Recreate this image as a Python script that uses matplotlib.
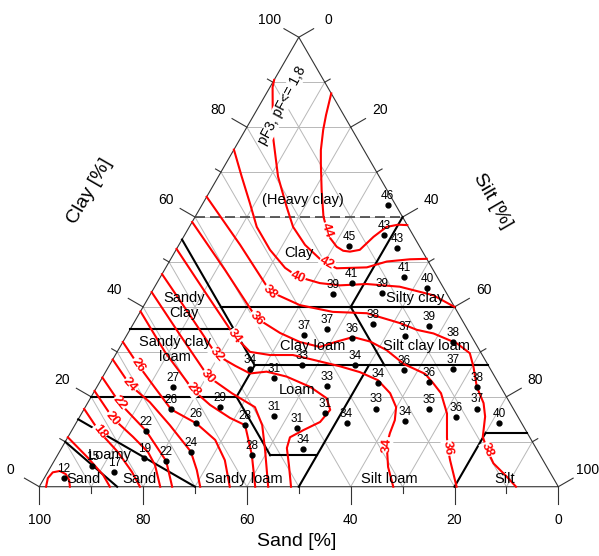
import numpy as np
import matplotlib
matplotlib.use("Agg")
import matplotlib.pyplot as plt

plt.rcParams["font.family"] = ["Liberation Sans", "DejaVu Sans"]

# measured soil samples: clay %, silt % (sand is the rest) and the value shown at each dot
pt_clay = [62.7, 56.0, 53.0, 53.5, 45.4, 42.9, 46.7, 44.3, 43.2, 36.3,
           35.8, 33.6, 32.3, 33.0, 35.1, 33.8, 27.1, 27.0, 26.1, 24.1,
           22.4, 25.9, 26.2, 23.4, 23.1, 22.1, 17.7, 13.7, 15.7, 13.0,
           16.5, 14.2, 17.4, 14.7, 8.4, 7.1, 17.3, 17.4, 15.5, 14.1,
           22.2, 17.2, 14.1, 12.5, 7.8, 5.7, 6.3, 3.3, 4.7, 1.9]
pt_silt = [35.8, 38.4, 42.5, 32.9, 37.5, 35.1, 47.0, 52.6, 44.4, 46.2,
           57.1, 53.6, 63.5, 43.8, 37.9, 34.1, 47.2, 37.1, 27.6, 33.1,
           44.2, 57.4, 66.6, 63.4, 53.8, 73.3, 26.0, 32.8, 37.4, 43.2,
           46.8, 52.1, 56.2, 63.2, 46.7, 37.4, 66.4, 75.7, 72.5, 81.6,
           14.7, 16.8, 23.2, 14.3, 25.3, 21.6, 17.1, 12.8, 7.9, 3.8]
pt_value = [46, 43, 43, 45, 41, 39, 41, 40, 39, 38,
            39, 37, 38, 36, 37, 37, 34, 33, 34, 31,
            33, 36, 37, 36, 34, 38, 29, 28, 31, 31,
            31, 34, 33, 34, 34, 28, 35, 37, 36, 40,
            27, 26, 26, 22, 24, 22, 19, 17, 15, 12]

# red iso-lines, (clay, silt) along each line
contours = {
    14: [(0, 1.3), (1.9, 0.7), (3.2, 1.0), (3.5, 2.2), (2.8, 3.7), (1.5, 5.0), (0, 5.9)],
    16: [(11, 0), (6.4, 6.2), (2.6, 11.0), (0, 13.6)],
    18: [(17.3, 0), (12.2, 5.5), (7.7, 11.3), (3.3, 16.2), (0, 19.4)],
    20: [(21.3, 0), (15.2, 6.6), (11.1, 12.5), (7.7, 17.1), (4.8, 19.9), (0, 23.3)],
    22: [(24.3, 0), (18.6, 6.2), (12.4, 14.4), (5.7, 21.6), (0, 25.6)],
    24: [(28.3, 0), (22.6, 6.2), (18.8, 11.9), (13.7, 18.3), (7.8, 25.3), (3.7, 28.5), (0, 31.0)],
    26: [(32.2, 0), (27.1, 5.5), (22.0, 11.3), (17.2, 16.8), (14.1, 23.2), (10.4, 28.7),
         (5.9, 32.8), (0, 36.7)],
    28: [(39.0, 0), (30.0, 9.2), (21.5, 18.9), (18.2, 23.8), (15.3, 29.1), (13.7, 32.8),
         (7.1, 37.4), (0, 41.6)],
    30: [(43.3, 0), (33.7, 10.3), (24.5, 20.3), (20.8, 26.7), (17.7, 32.7), (13.7, 36.1),
         (8.2, 39.4), (0, 44.1)],
    32: [(47.3, 0), (38.2, 9.9), (29.3, 19.5), (26.9, 24.3), (25.2, 28.0), (25.6, 31.0),
         (24.5, 35.4), (22.2, 41.1), (19.7, 45.5), (17.1, 47.5), (14.4, 46.9), (12.6, 44.6),
         (11.0, 42.8), (8.6, 43.4), (4.8, 45.7), (0, 48.5)],
    34: [(52.9, 0), (43.3, 10.3), (33.4, 21.0), (30.0, 25.6), (29.3, 29.8), (29.3, 34.2),
         (28.4, 38.0), (26.8, 44.5), (25.5, 49.0), (23.7, 53.4), (20.8, 57.2), (17.7, 59.9),
         (14.8, 61.1), (11.9, 61.6), (9.3, 62.3), (4.4, 65.0), (0, 68.2)],
    36: [(58.9, 0), (48.2, 11.7), (37.5, 23.1), (34.2, 29.3), (32.2, 34.1), (31.1, 38.5),
         (32.3, 41.2), (33.3, 43.8), (32.3, 47.6), (30.4, 51.7), (27.3, 56.6), (25.1, 61.8),
         (23.1, 64.3), (20.8, 67.0), (16.3, 70.4), (10.9, 73.1), (8.6, 74.4), (5.9, 76.2),
         (0, 80.4)],
    38: [(64.5, 0), (53.8, 11.8), (43.4, 22.8), (40.4, 30.0), (38.9, 37.1), (38.6, 43.8),
         (36.4, 51.3), (34.9, 55.3), (34.1, 58.9), (31.9, 64.5), (29.7, 68.1), (26.7, 70.3),
         (22.2, 73.2), (18.6, 76.3), (15.6, 78.1), (11.1, 79.9), (8.2, 82.2), (5.2, 84.9),
         (2.2, 89.0), (0, 91.85)],
    40: [(75, 0), (69.0, 4.5), (63.0, 9.1), (57.8, 13.0), (52.7, 18.1), (48.7, 23.0),
         (46.7, 26.5), (45.3, 31.4), (44.8, 35.5), (45.1, 40.5), (44.5, 47.2), (42.6, 54.6),
         (40.0, 60.0)],
    42: [(90.5, 0), (88.9, 0.5), (78.2, 5.9), (69.0, 11.5), (62.3, 16.5), (57.8, 20.0),
         (53.8, 24.3), (50.7, 28.7), (49.7, 30.5), (48.6, 33.0), (48.8, 38.7), (50.1, 41.9),
         (50.6, 46.1), (50.7, 49.3)],
    44: [(87.5, 12.5), (82.7, 13.9), (79.4, 15.0), (74.9, 16.8), (71.9, 18.3), (66.0, 21.4),
         (60.1, 24.7), (57.1, 26.9), (55.3, 28.4), (53.4, 30.6), (52.5, 32.3), (52.3, 33.7),
         (52.7, 35.4), (55.6, 36.6), (57.8, 38.0), (58.3, 40.0), (58.2, 41.8)],
}

# which vertex of a line carries its red label
contour_labels = [(18, 1), (20, 1), (22, 1), (24, 1), (26, 1), (28, 2), (30, 2), (32, 2),
                  (34, 2), (34, 14), (36, 2), (36, 16), (38, 2), (38, 16), (40, 6),
                  (42, 8), (44, 7)]

# texture class borders, (clay, silt) end points
class_lines = [
    [(55, 0), (27, 28)],
    [(35, 0), (35, 20)],
    [(40, 15), (40, 60)],
    [(60, 40), (40, 40)],
    [(40, 40), (27, 53)],
    [(27, 28), (27, 73)],
    [(27, 28), (20, 28)],
    [(20, 0), (20, 28)],
    [(20, 28), (7, 41)],
    [(7, 41), (7, 50)],
    [(27, 50), (0, 50)],
    [(12, 80), (12, 88)],
    [(12, 80), (0, 80)],
    [(15, 0), (0, 30)],
    [(10, 0), (0, 15)],
]
heavy_clay = [(60, 0), (60, 40)]

class_names = ["(Heavy clay)", "Clay", "Sandy\nClay", "Sandy clay\nloam", "Clay loam",
               "Silty clay", "Silt clay loam", "Loam", "Loamy", "Sand", "Sand",
               "Sandy loam", "Silt loam", "Silt"]
class_clay = [63.7, 51.9, 40.3, 30.6, 31.3, 42.0, 31.4, 21.5, 7.05, 1.65, 1.65, 1.65, 1.65, 1.65]
class_silt = [19.0, 24.0, 7.8, 10.9, 37.0, 51.4, 58.9, 38.9, 10.0, 18.5, 7.6, 38.5, 66.7, 88.9]

tick_values = list(range(0, 101, 10))

H = np.sqrt(3) / 2


def tern(clay, silt):
    clay = np.asarray(clay, dtype=float)
    silt = np.asarray(silt, dtype=float)
    return silt + clay / 2, clay * H


fig = plt.figure(figsize=(5.99, 5.56), dpi=100)
ax = fig.add_axes([0, 0, 1, 1])
ax.set_xlim(-7.57, 107.84)
ax.set_ylim(-13.35, 93.78)
ax.axis("off")

# grid every 10 %
for v in range(10, 100, 10):
    for c, s in ([(v, v), (0, 100 - v)], [(0, 100 - v), (v, v)], [(0, 100 - v), (100 - v, 0)]):
        x, y = tern(c, s)
        ax.plot(x, y, color="#b8b8b8", lw=0.7, zorder=1)

# outline
x, y = tern([0, 100, 0, 0], [0, 0, 100, 0])
ax.plot(x, y, color="#333333", lw=0.8, zorder=2)

# ticks and tick labels
L_major, L_minor, L_text = 3.3, 1.2, 6.5
dl = np.array([-0.866, 0.5])
dr = np.array([0.866, 0.5])
for v in tick_values:
    big = v % 20 == 0
    L = L_major if big else L_minor
    # sand, bottom
    bx, by = tern(0, 100 - v)
    ax.plot([bx, bx], [by, by - L], color="#333333", lw=0.8)
    if big:
        ax.text(bx, by - L_text, str(v), ha="center", va="center", fontsize=10)
    # clay, left
    bx, by = tern(v, 0)
    ax.plot([bx, bx + L * dl[0]], [by, by + L * dl[1]], color="#333333", lw=0.8)
    if big:
        ax.text(bx + L_text * dl[0], by + L_text * dl[1], str(v), ha="center", va="center", fontsize=10)
    # silt, right
    bx, by = tern(100 - v, v)
    ax.plot([bx, bx + L * dr[0]], [by, by + L * dr[1]], color="#333333", lw=0.8)
    if big:
        ax.text(bx + L_text * dr[0], by + L_text * dr[1], str(v), ha="center", va="center", fontsize=10)

ax.text(49.6, -10.5, "Sand [%]", ha="center", va="center", fontsize=14)
ax.text(9.8, 57.0, "Clay [%]", ha="center", va="center", fontsize=14, rotation=60)
ax.text(87.3, 55.0, "Silt [%]", ha="center", va="center", fontsize=14, rotation=-60)

# class borders
for seg in class_lines:
    c, s = zip(*seg)
    x, y = tern(c, s)
    ax.plot(x, y, color="black", lw=1.5, zorder=3)
c, s = zip(*heavy_clay)
x, y = tern(c, s)
ax.plot(x, y, color="#444444", lw=1.2, ls=(0, (6, 3)), zorder=3)

for name, c, s in zip(class_names, class_clay, class_silt):
    x, y = tern(c, s)
    ax.text(x, y, name, ha="center", va="center", fontsize=10.5, linespacing=1.1, zorder=6)

# iso-lines
for level, pts in contours.items():
    c, s = zip(*pts)
    x, y = tern(c, s)
    ax.plot(x, y, color="red", lw=1.5, zorder=4)

for level, i in contour_labels:
    c, s = zip(*contours[level])
    x, y = tern(c, s)
    ang = np.degrees(np.arctan2(y[i + 1] - y[i - 1], x[i + 1] - x[i - 1]))
    if ang > 90:
        ang -= 180
    elif ang <= -90:
        ang += 180
    ax.text(x[i], y[i], str(level), color="red", fontsize=9.5, fontweight="bold",
            rotation=ang, rotation_mode="anchor", ha="center", va="center", zorder=5,
            bbox=dict(fc="white", ec="none", pad=0.3))

x, y = tern(84.9, 4.4)
ax.text(x, y, "pF3, pF<= 1,8", fontsize=10, rotation=62, rotation_mode="anchor",
        ha="center", va="center", zorder=5, bbox=dict(fc="white", ec="none", pad=0.3))

# samples
x, y = tern(pt_clay, pt_silt)
ax.plot(x, y, "o", color="black", ms=3.5, zorder=6)
for xi, yi, v in zip(x, y, pt_value):
    ax.annotate(str(v), (xi, yi), xytext=(0, 6.5), textcoords="offset points",
                ha="center", va="center", fontsize=8.5, zorder=6)

fig.savefig("out.png", dpi=100)
